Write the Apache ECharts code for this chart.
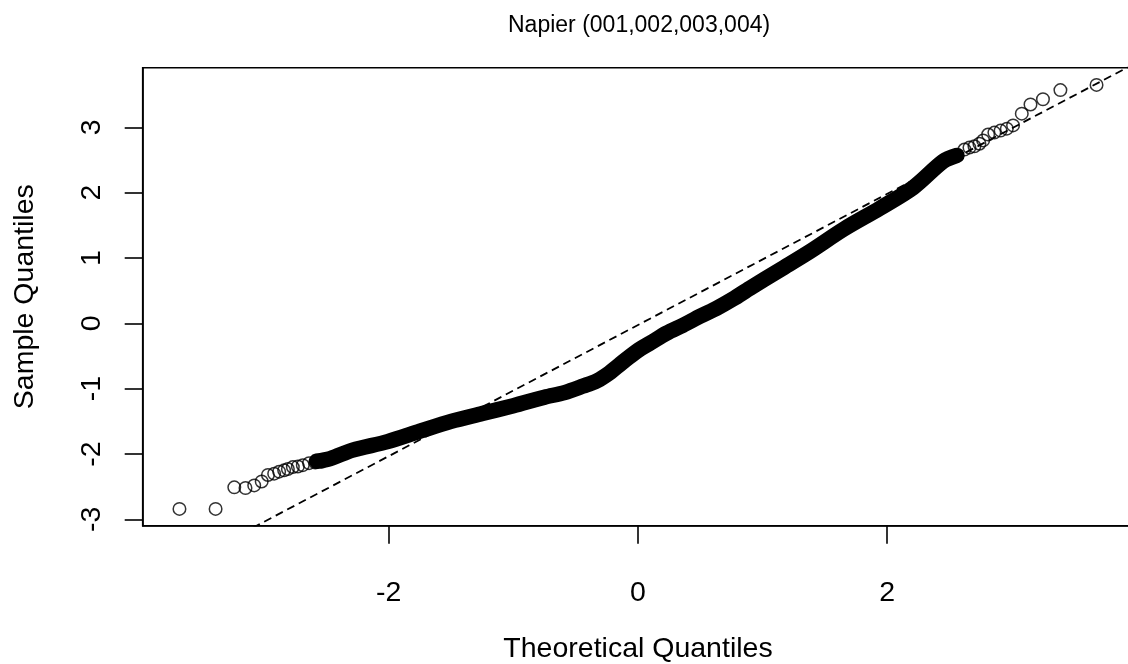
<!DOCTYPE html>
<html>
<head>
<meta charset="utf-8">
<script src="https://cdn.jsdelivr.net/npm/echarts@6/dist/echarts.min.js"></script>
<style>
  html, body { margin: 0; padding: 0; background: #fff; }
  #qq { width: 1128px; height: 664px; }
</style>
</head>
<body>
<div id="qq"></div>
<script>
// tick positions
const xTicks = [-2, 0, 2];
const yTicks = [-3, -2, -1, 0, 1, 2, 3];

// sparse points of the lower tail (theoretical, sample)
const tailLow = [
  [-3.68, -2.84], [-3.39, -2.84], [-3.24, -2.51], [-3.15, -2.52],
  [-3.08, -2.48], [-3.02, -2.42], [-2.97, -2.32], [-2.92, -2.30],
  [-2.88, -2.27], [-2.84, -2.25], [-2.81, -2.23], [-2.77, -2.20],
  [-2.73, -2.19], [-2.69, -2.17], [-2.64, -2.14], [-2.59, -2.13],
  [-2.54, -2.12]
];

// the dense middle part, read along the centre of the black band
const band = [
  [-2.58, -2.11], [-2.47, -2.07], [-2.29, -1.94], [-2.01, -1.81],
  [-1.75, -1.65], [-1.50, -1.50], [-1.25, -1.38], [-1.00, -1.26],
  [-0.75, -1.13], [-0.59, -1.06], [-0.44, -0.96], [-0.33, -0.88],
  [-0.23, -0.76], [-0.14, -0.62], [-0.06, -0.50], [0.02, -0.39],
  [0.10, -0.30], [0.23, -0.15], [0.36, -0.03], [0.50, 0.11],
  [0.63, 0.23], [0.76, 0.37], [0.90, 0.54], [1.14, 0.82],
  [1.38, 1.10], [1.65, 1.44], [1.94, 1.76], [2.21, 2.08],
  [2.45, 2.48], [2.56, 2.57]
];

// sparse points of the upper tail
const tailHigh = [
  [2.62, 2.66], [2.66, 2.69], [2.70, 2.71], [2.74, 2.75],
  [2.77, 2.80], [2.81, 2.89], [2.86, 2.92], [2.91, 2.95],
  [2.96, 2.98], [3.01, 3.03], [3.08, 3.21], [3.15, 3.35],
  [3.25, 3.43], [3.39, 3.57], [3.68, 3.65]
];

// qqline end points
const refLine = [[-4.2, -4.24], [4.2, 4.19]];

const FONT = 'Liberation Sans, Arial, sans-serif';

let chart = echarts.init(document.getElementById('qq'), null, { renderer: 'canvas' });

let option = {
  animation: false,
  backgroundColor: '#ffffff',
  title: {
    text: 'Napier (001,002,003,004)',
    left: 508,
    top: 14,
    padding: 0,
    textStyle: { fontFamily: FONT, fontSize: 23, fontWeight: 'normal', color: '#000' }
  },
  grid: {
    left: 142.7,
    top: 67.7,
    width: 990.6,
    height: 458,
    show: true,
    borderColor: '#000',
    borderWidth: 1.6,
    containLabel: false,
    outerBoundsMode: 'none'
  },
  xAxis: {
    type: 'value',
    min: -3.975,
    max: 3.975,
    name: 'Theoretical Quantiles',
    nameLocation: 'middle',
    nameGap: 109,
    nameTextStyle: { fontFamily: FONT, fontSize: 28.5, color: '#000' },
    splitLine: { show: false },
    axisLine: { show: true, onZero: false, lineStyle: { color: '#000', width: 1.6 } },
    axisTick: { show: true, length: 18, customValues: xTicks, lineStyle: { color: '#000', width: 1.6 } },
    axisLabel: { customValues: xTicks, margin: 53, fontFamily: FONT, fontSize: 28.5, color: '#000' }
  },
  yAxis: {
    type: 'value',
    min: -3.097,
    max: 3.913,
    name: 'Sample Quantiles',
    nameLocation: 'middle',
    nameRotate: 90,
    nameGap: 103,
    nameTextStyle: { fontFamily: FONT, fontSize: 28.5, color: '#000' },
    splitLine: { show: false },
    axisLine: { show: true, onZero: false, lineStyle: { color: '#000', width: 1.6 } },
    axisTick: { show: true, length: 18, customValues: yTicks, lineStyle: { color: '#000', width: 1.6 } },
    axisLabel: { customValues: yTicks, rotate: 90, margin: 36, fontFamily: FONT, fontSize: 28.5, color: '#000' }
  },
  series: [
    {
      name: 'qqline',
      type: 'line',
      data: refLine,
      showSymbol: false,
      silent: true,
      lineStyle: { color: '#000', width: 1.8, type: [8, 5] }
    },
    {
      name: 'band',
      type: 'line',
      data: band,
      showSymbol: false,
      smooth: 0.3,
      silent: true,
      lineStyle: { color: '#000', width: 15.5, cap: 'round', join: 'round' }
    },
    {
      name: 'low',
      type: 'scatter',
      data: tailLow,
      symbol: 'circle',
      symbolSize: 12.5,
      itemStyle: { color: 'rgba(0,0,0,0)', borderColor: '#000', borderWidth: 1.5 }
    },
    {
      name: 'high',
      type: 'scatter',
      data: tailHigh,
      symbol: 'circle',
      symbolSize: 12.5,
      itemStyle: { color: 'rgba(0,0,0,0)', borderColor: '#000', borderWidth: 1.5 }
    }
  ]
};

option && chart.setOption(option);
</script>
</body>
</html>
